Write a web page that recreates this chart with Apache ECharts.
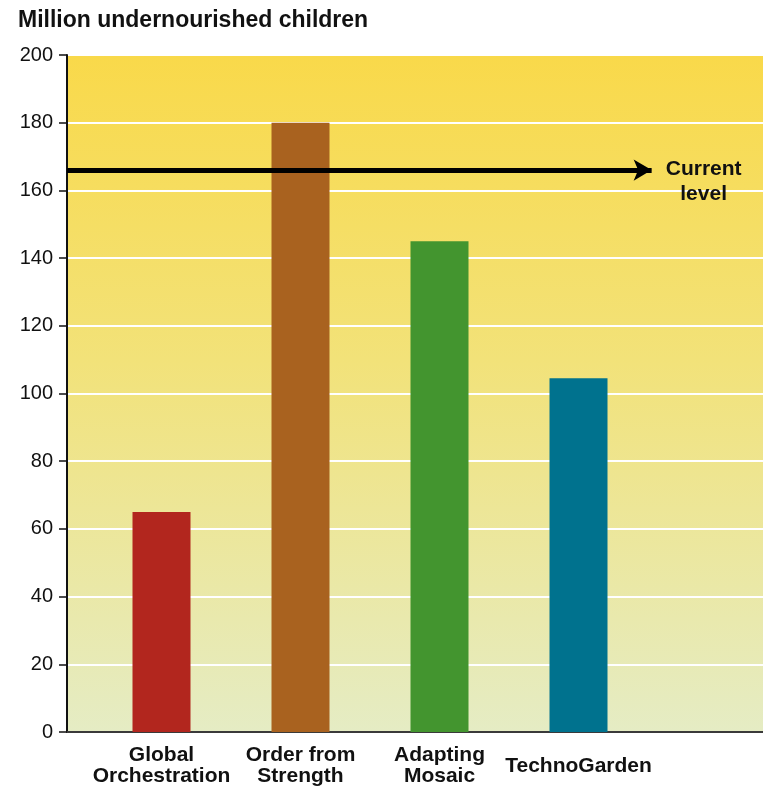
<!DOCTYPE html>
<html>
<head>
<meta charset="utf-8">
<script src="https://cdn.jsdelivr.net/npm/echarts@6/dist/echarts.min.js"></script>
<style>html,body{margin:0;padding:0;background:#fff;}#c{width:763px;height:792px;}</style>
</head>
<body>
<div id="c"></div>
<script>
const titleText = 'Million undernourished children';
const categories = ['Global\nOrchestration', 'Order from\nStrength', 'Adapting\nMosaic', 'TechnoGarden', ''];
const values = [65, 180, 145, 104.5];
const barColors = ['#B2261E', '#A9621F', '#43952F', '#00728E'];
const currentLevel = 166;
const currentLabel = ['Current', 'level'];
const yTicks = { min: 0, max: 200, interval: 20 };

const chart = echarts.init(document.getElementById('c'), null, { renderer: 'canvas' });
const sans = '"Liberation Sans", Arial, sans-serif';

chart.setOption({
  animation: false,
  backgroundColor: '#ffffff',
  title: {
    text: titleText, left: 18, top: 9, padding: 0,
    textStyle: { fontFamily: sans, fontWeight: 'bold', fontSize: 23, color: '#111' }
  },
  grid: [
    { left: 67, right: 0, top: 55, bottom: 60, show: true, borderWidth: 0, outerBoundsMode: 'none',
      backgroundColor: { type: 'linear', x: 0, y: 0, x2: 0, y2: 1,
        colorStops: [ { offset: 0, color: '#F9D94A' }, { offset: 0.45, color: '#F2E279' }, { offset: 1, color: '#E5ECC4' } ] } },
    { left: 92, width: 695, top: 55, bottom: 60, outerBoundsMode: 'none' }
  ],
  xAxis: [
    { gridIndex: 0, type: 'value', min: 0, max: 100,
      axisLine: { show: true, lineStyle: { color: '#3a3a3a', width: 2 } },
      axisTick: { show: false }, axisLabel: { show: false }, splitLine: { show: false } },
    { gridIndex: 1, type: 'category', data: categories,
      axisLine: { show: false }, axisTick: { show: false },
      axisLabel: { interval: 0, margin: 34, verticalAlign: 'middle', lineHeight: 21,
        fontFamily: sans, fontWeight: 'bold', fontSize: 21, color: '#111' } }
  ],
  yAxis: [
    { gridIndex: 0, type: 'value', min: yTicks.min, max: yTicks.max, interval: yTicks.interval,
      axisLine: { show: true, lineStyle: { color: '#111', width: 2 } },
      axisTick: { show: true, length: 8, lineStyle: { color: '#111', width: 1.5 } },
      axisLabel: { margin: 14, fontFamily: sans, fontSize: 20, color: '#111' },
      splitLine: { show: true, lineStyle: { color: '#ffffff', width: 2 } } },
    { gridIndex: 1, type: 'value', min: yTicks.min, max: yTicks.max, show: false }
  ],
  series: [
    { type: 'bar', xAxisIndex: 1, yAxisIndex: 1, barWidth: 58,
      data: values.map((v, i) => ({ value: v, itemStyle: { color: barColors[i] } })) },
    { type: 'line', xAxisIndex: 0, yAxisIndex: 0, data: [], silent: true,
      markLine: {
        silent: true, symbol: ['none', 'arrow'], symbolSize: [16, 18],
        lineStyle: { color: '#000', width: 5, type: 'solid' },
        label: {
          show: true, position: 'end', distance: 12,
          formatter: currentLabel.map(s => '{a|' + s + '}').join('\n'),
          padding: [24, 0, 0, 0],
          rich: { a: { width: 80, align: 'center', fontFamily: sans, fontWeight: 'bold', fontSize: 21, lineHeight: 25, color: '#111' } }
        },
        data: [[ { coord: [0, currentLevel] }, { coord: [84, currentLevel] } ]]
      } }
  ]
});
</script>
</body>
</html>
